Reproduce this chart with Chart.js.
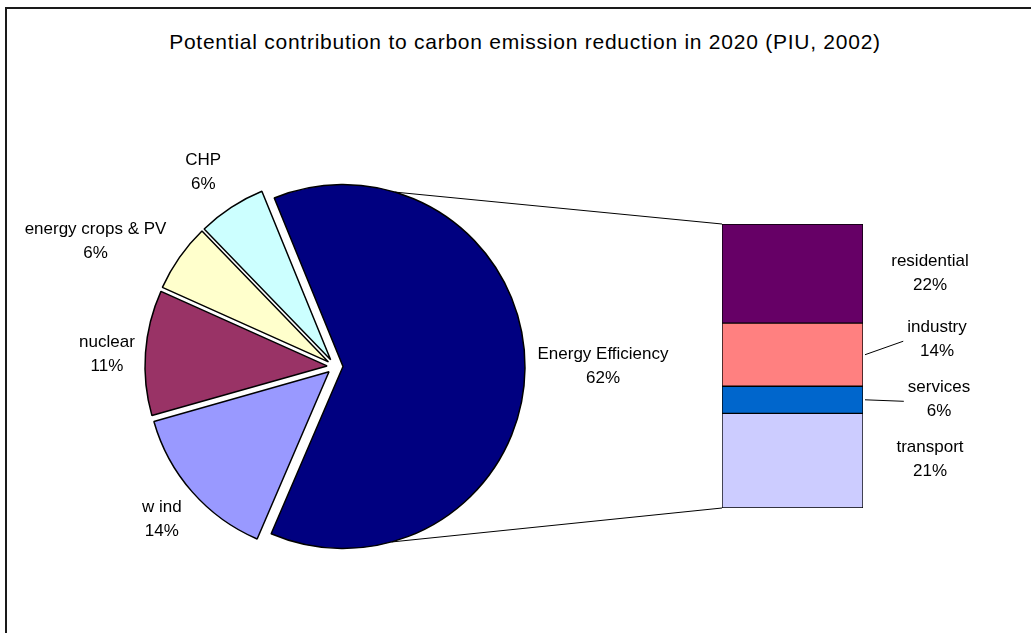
<!DOCTYPE html>
<html>
<head>
<meta charset="utf-8">
<script src="https://cdn.jsdelivr.net/npm/chart.js@4/dist/chart.umd.min.js"></script>
<style>
html,body{margin:0;padding:0;background:#fff;}
#wrap{position:relative;width:1031px;height:633px;overflow:hidden;background:#fff;}
#frame{position:absolute;left:5px;top:7px;width:1100px;height:700px;border-left:2px solid #1a1a1a;border-top:2px solid #1a1a1a;}
canvas{position:absolute;left:0;top:0;}
#title{position:absolute;left:0;width:1050px;top:30px;text-align:center;font:21px "Liberation Sans",Arial,sans-serif;letter-spacing:0.75px;color:#000;white-space:nowrap;}
</style>
</head>
<body>
<div id="wrap">
  <div id="frame"></div>
  <div id="title">Potential contribution to carbon emission reduction in 2020 (PIU, 2002)</div>
  <canvas id="bar" width="1031" height="633" style="width:1031px;height:633px"></canvas>
  <canvas id="pie" width="1031" height="633" style="width:1031px;height:633px"></canvas>
</div>
<script>
// ---- data ----
const pieLabels = ['Energy Efficiency', 'w ind', 'nuclear', 'energy crops & PV', 'CHP'];
const pieValues = [62, 14, 11, 6, 6];
const pieColors = ['#000080', '#9999FF', '#993366', '#FFFFCC', '#CCFFFF'];

// bar of pie (Energy Efficiency breakdown), bottom to top
const barLabels = ['transport', 'services', 'industry', 'residential'];
const barValues = [21, 6, 14, 22];
const barColors = ['#CCCCFF', '#0066CC', '#FF8080', '#660066'];

// ---- style ----
const FONT = '17px "Liberation Sans", Arial, sans-serif';
const LINE_H = 24;
const EXPLODE = 8;
const CONNECTOR_ANGLE = 74; // degrees off the slice's mid direction
const pieLabelOffsets = [[78, -2], [-30.5, 27.3], [-38.5, 1.5], [-84, -16], [-28, -35]];
const barLabelDx = [67, 76, 74, 67];
const barLabelDy = [-1.5, 0, -15, 0];
const barLeader = [false, true, true, false];

const barTotal = barValues.reduce((a, b) => a + b, 0);

const barChart = new Chart(document.getElementById('bar'), {
  type: 'bar',
  data: {
    labels: ['Energy Efficiency'],
    datasets: barLabels.map((l, i) => ({
      label: l,
      data: [barValues[i]],
      backgroundColor: barColors[i],
      borderColor: '#000',
      borderWidth: 1,
      borderSkipped: false,
      barPercentage: 1,
      categoryPercentage: 1
    }))
  },
  options: {
    responsive: false,
    animation: false,
    events: [],
    layout: {padding: {left: 722, right: 168, top: 224, bottom: 125}},
    scales: {
      x: {display: false, stacked: true},
      y: {display: false, stacked: true, min: 0, max: barTotal}
    },
    plugins: {legend: {display: false}, tooltip: {enabled: false}}
  }
});

function dir(a) { return [Math.cos(a), Math.sin(a)]; }

const piePlugin = {
  id: 'piePlugin',
  beforeDatasetsDraw(chart) {
    const ctx = chart.ctx;
    const arcs = chart.getDatasetMeta(0).data;
    // connector lines from the Energy Efficiency slice to the bar
    const ee = arcs[0];
    const eeMid = (ee.startAngle + ee.endAngle) / 2;
    const [mx, my] = dir(eeMid);
    const ax = ee.x + mx * EXPLODE, ay = ee.y + my * EXPLODE;
    const R = ee.outerRadius;
    const bars = barChart.getSortedVisibleDatasetMetas().map(m => m.data[0]);
    const topBar = bars[bars.length - 1], botBar = bars[0];
    const left = topBar.x - topBar.width / 2;
    const ca = CONNECTOR_ANGLE * Math.PI / 180;
    ctx.save();
    ctx.strokeStyle = '#000';
    ctx.lineWidth = 1;
    ctx.beginPath();
    ctx.moveTo(ax + R * Math.cos(eeMid - ca), ay + R * Math.sin(eeMid - ca));
    ctx.lineTo(left, topBar.y);
    ctx.moveTo(ax + R * Math.cos(eeMid + ca), ay + R * Math.sin(eeMid + ca));
    ctx.lineTo(left, botBar.base);
    ctx.stroke();
    ctx.restore();
    // exploded slices, drawn by the library's arc elements
    arcs.forEach(el => {
      const mid = (el.startAngle + el.endAngle) / 2;
      ctx.save();
      ctx.translate(Math.cos(mid) * EXPLODE, Math.sin(mid) * EXPLODE);
      el.draw(ctx);
      ctx.restore();
    });
    return false;
  },
  afterDraw(chart) {
    const ctx = chart.ctx;
    const arcs = chart.getDatasetMeta(0).data;
    ctx.save();
    ctx.font = FONT;
    ctx.fillStyle = '#000';
    ctx.textAlign = 'center';
    ctx.textBaseline = 'middle';
    arcs.forEach((el, i) => {
      const mid = (el.startAngle + el.endAngle) / 2;
      const [dx, dy] = dir(mid);
      const r = el.outerRadius + EXPLODE;
      const cx = el.x + dx * r + pieLabelOffsets[i][0];
      const cy = el.y + dy * r + pieLabelOffsets[i][1];
      ctx.fillText(pieLabels[i], cx, cy - LINE_H / 2);
      ctx.fillText(pieValues[i] + '%', cx, cy + LINE_H / 2);
    });
    // bar labels
    const metas = barChart.getSortedVisibleDatasetMetas();
    metas.forEach((m, i) => {
      const b = m.data[0];
      const right = b.x + b.width / 2;
      const midY = (b.y + b.base) / 2;
      const cx = right + barLabelDx[i];
      const cy = midY + barLabelDy[i];
      ctx.fillText(barLabels[i], cx, cy - LINE_H / 2);
      ctx.fillText(barValues[i] + '%', cx, cy + LINE_H / 2);
      if (barLeader[i]) {
        const w = ctx.measureText(barLabels[i]).width;
        ctx.save();
        ctx.strokeStyle = '#000';
        ctx.lineWidth = 1;
        ctx.beginPath();
        ctx.moveTo(right + 2, midY);
        ctx.lineTo(cx - w / 2 - 4, cy + 1.5);
        ctx.stroke();
        ctx.restore();
      }
    });
    ctx.restore();
  }
};

new Chart(document.getElementById('pie'), {
  type: 'pie',
  data: {
    labels: pieLabels,
    datasets: [{
      data: pieValues,
      backgroundColor: pieColors,
      borderColor: '#000',
      borderWidth: 1.5,
      radius: 182
    }]
  },
  options: {
    responsive: false,
    animation: false,
    events: [],
    rotation: -22.2,
    layout: {padding: {left: 0, right: 361, top: 100, bottom: 0}},
    plugins: {legend: {display: false}, tooltip: {enabled: false}}
  },
  plugins: [piePlugin]
});
</script>
</body>
</html>
